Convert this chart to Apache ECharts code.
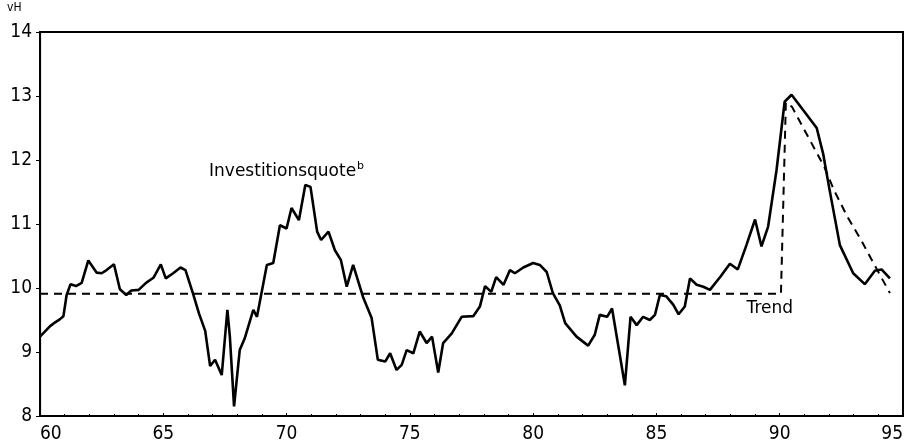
<!DOCTYPE html>
<html>
<head>
<meta charset="utf-8">
<script src="https://cdn.jsdelivr.net/npm/echarts@6/dist/echarts.min.js"></script>
<style>
  html, body { margin: 0; padding: 0; background: #fff; }
  #chart { width: 906px; height: 447px; }
</style>
</head>
<body>
<div id="chart"></div>
<script>
// Investitionsquote (vH)
var quoteYears = [60.0, 60.4, 60.6, 60.8, 60.95, 61.08, 61.24, 61.46, 61.69, 61.96,
  62.3, 62.5, 62.7, 63.0, 63.24, 63.5, 63.7, 64.0, 64.3, 64.6,
  64.9, 65.1, 65.4, 65.7, 65.9, 66.2, 66.45, 66.7, 66.9, 67.1,
  67.37, 67.6, 67.7, 67.87, 68.1, 68.3, 68.65, 68.8, 69.2, 69.46,
  69.73, 70.0, 70.2, 70.5, 70.76, 70.97, 71.24, 71.4, 71.7, 71.96,
  72.2, 72.44, 72.7, 73.1, 73.45, 73.7, 74.0, 74.2, 74.46, 74.67,
  74.87, 75.14, 75.4, 75.68, 75.9, 76.15, 76.35, 76.7, 77.1, 77.57,
  77.84, 78.05, 78.3, 78.5, 78.8, 79.06, 79.26, 79.6, 80.0, 80.27,
  80.55, 80.8, 81.08, 81.3, 81.76, 82.23, 82.5, 82.7, 83.0, 83.2,
  83.72, 83.95, 84.2, 84.46, 84.73, 84.94, 85.14, 85.4, 85.68, 85.9,
  86.15, 86.36, 86.63, 86.9, 87.17, 87.6, 87.98, 88.3, 88.65, 89.0,
  89.26, 89.53, 89.87, 90.2, 90.48, 90.95, 91.5, 91.76, 92.0, 92.44,
  92.98, 93.45, 93.86, 94.13, 94.47];
var quoteValues = [9.24, 9.40, 9.46, 9.51, 9.56, 9.89, 10.06, 10.03, 10.08, 10.43,
  10.24, 10.23, 10.28, 10.37, 9.98, 9.89, 9.96, 9.97, 10.08, 10.16,
  10.37, 10.15, 10.23, 10.32, 10.28, 9.92, 9.60, 9.33, 8.78, 8.88,
  8.64, 9.66, 9.24, 8.15, 9.03, 9.21, 9.66, 9.55, 10.36, 10.39,
  10.98, 10.93, 11.25, 11.06, 11.61, 11.58, 10.88, 10.75, 10.88, 10.59,
  10.44, 10.02, 10.36, 9.86, 9.53, 8.88, 8.85, 8.98, 8.72, 8.80,
  9.03, 8.98, 9.32, 9.14, 9.24, 8.68, 9.14, 9.29, 9.55, 9.56,
  9.71, 10.03, 9.94, 10.17, 10.05, 10.28, 10.23, 10.32, 10.39, 10.36,
  10.25, 9.92, 9.73, 9.45, 9.24, 9.10, 9.27, 9.58, 9.55, 9.68,
  8.48, 9.55, 9.42, 9.55, 9.50, 9.58, 9.89, 9.87, 9.74, 9.59,
  9.71, 10.15, 10.05, 10.02, 9.97, 10.18, 10.38, 10.29, 10.67, 11.07,
  10.65, 10.96, 11.84, 12.91, 13.02, 12.78, 12.50, 12.10, 11.58, 10.67,
  10.23, 10.06, 10.27, 10.29, 10.15];

// Trend
var trendYears = [60, 90.05, 90.25, 90.5, 91.0, 91.8, 92.2, 92.75, 93.3, 93.8, 94.47];
var trendValues = [9.91, 9.91, 12.9, 12.83, 12.47, 11.9, 11.53, 11.11, 10.75, 10.39, 9.92];

var xTicks = [60, 65, 70, 75, 80, 85, 90, 95];
var yTicks = [8, 9, 10, 11, 12, 13, 14];

function pairs(xs, ys) {
  var out = [];
  for (var i = 0; i < xs.length; i++) out.push([xs[i], ys[i]]);
  return out;
}

var font = "'DejaVu Sans Condensed', 'Liberation Sans Narrow', 'DejaVu Sans', sans-serif";
var textFont = "'DejaVu Sans', sans-serif";

var chart = echarts.init(document.getElementById('chart'));
chart.setOption({
  animation: false,
  backgroundColor: '#fff',
  grid: {
    left: 40, right: 3, top: 32, bottom: 31,
    show: true, borderColor: '#000', borderWidth: 2
  },
  xAxis: {
    type: 'value',
    min: xTicks[0], max: xTicks[xTicks.length - 1], interval: 5,
    axisLine: { show: true, lineStyle: { color: '#000', width: 1.2 } },
    axisTick: { show: true, inside: true, length: 3, lineStyle: { color: '#000' } },
    minorTick: { show: true, splitNumber: 5, length: 2, lineStyle: { color: '#000' } },
    splitLine: { show: false },
    axisLabel: {
      color: '#000', fontSize: 19, fontFamily: font, margin: 9,
      alignMinLabel: 'left', alignMaxLabel: 'right'
    }
  },
  yAxis: {
    type: 'value',
    min: yTicks[0], max: yTicks[yTicks.length - 1], interval: 1,
    axisLine: { show: true, lineStyle: { color: '#000', width: 1.2 } },
    axisTick: { show: true, length: 4, lineStyle: { color: '#000' } },
    splitLine: { show: false },
    axisLabel: { color: '#000', fontSize: 19, fontFamily: font, margin: 8 }
  },
  graphic: [{
    type: 'text', left: 7, top: 2,
    style: { text: 'vH', fontSize: 12, fontFamily: font, fill: '#000' }
  }],
  series: [{
    name: 'Investitionsquote',
    type: 'line',
    data: pairs(quoteYears, quoteValues),
    symbol: 'none',
    lineStyle: { color: '#000', width: 2.6 },
    markPoint: {
      symbol: 'circle', symbolSize: 0, silent: true,
      label: {
        show: true, position: 'inside', color: '#000',
        fontFamily: textFont, fontSize: 17,
        formatter: '{a|Investitionsquote}{b|b}',
        rich: {
          a: { fontSize: 17, fontFamily: textFont, color: '#000' },
          b: { fontSize: 11, fontFamily: textFont, color: '#000', verticalAlign: 'top', padding: [0, 0, 10, 1] }
        }
      },
      data: [{ coord: [70.0, 11.82] }]
    }
  }, {
    name: 'Trend',
    type: 'line',
    data: pairs(trendYears, trendValues),
    symbol: 'none',
    lineStyle: { color: '#000', width: 2, type: [8, 6] },
    markPoint: {
      symbol: 'circle', symbolSize: 0, silent: true,
      label: {
        show: true, position: 'inside', color: '#000',
        fontFamily: textFont, fontSize: 17, formatter: 'Trend'
      },
      data: [{ coord: [89.6, 9.68] }]
    }
  }]
});
</script>
</body>
</html>
